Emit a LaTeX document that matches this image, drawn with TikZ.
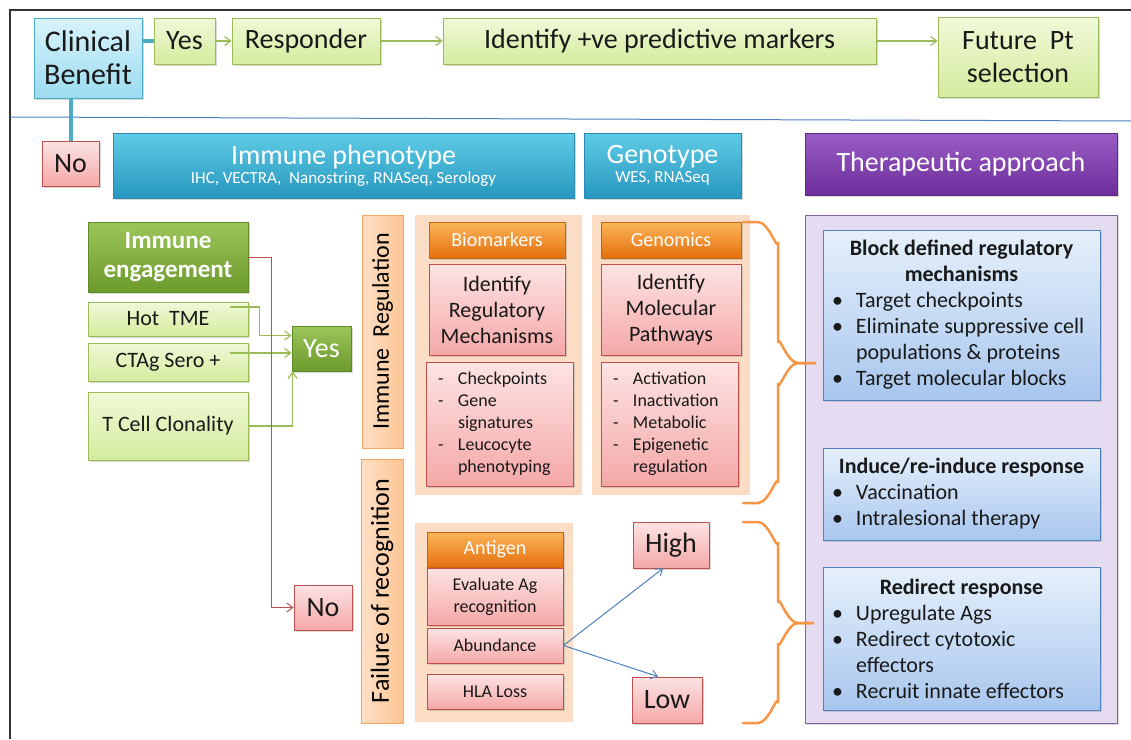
\documentclass[tikz,border=0pt]{standalone}
\usepackage{fontspec}
\setmainfont{Carlito}
\usetikzlibrary{positioning,shadows,arrows.meta}
\setlength{\parindent}{0pt}

\definecolor{lgrtop}{HTML}{F1F9D8}
\definecolor{lgrbot}{HTML}{D4EB9E}
\definecolor{lgrline}{HTML}{9BBB59}
\definecolor{dgrtop}{HTML}{9CC55A}
\definecolor{dgrbot}{HTML}{6C9A2C}
\definecolor{dgrline}{HTML}{5E8A29}
\definecolor{cytop}{HTML}{D8F3FB}
\definecolor{cybot}{HTML}{9CDCF0}
\definecolor{cyline}{HTML}{4BACC6}
\definecolor{pktop}{HTML}{FDE3E3}
\definecolor{pkbot}{HTML}{F5A8A8}
\definecolor{pkline}{HTML}{C0504D}
\definecolor{tltop}{HTML}{5FCBE6}
\definecolor{tlbot}{HTML}{2797BE}
\definecolor{tlline}{HTML}{2A8BB0}
\definecolor{pptop}{HTML}{9A5CC4}
\definecolor{ppbot}{HTML}{6D2E9C}
\definecolor{ppline}{HTML}{5C2A85}
\definecolor{ortop}{HTML}{FBB65A}
\definecolor{orbot}{HTML}{E56F0E}
\definecolor{orline}{HTML}{C9640F}
\definecolor{peach}{HTML}{FBDDC5}
\definecolor{peachlab}{HTML}{FCD2AE}
\definecolor{peachline}{HTML}{F4A55E}
\definecolor{lav}{HTML}{E6DCF1}
\definecolor{lavline}{HTML}{8064A2}
\definecolor{bltop}{HTML}{E6F0FB}
\definecolor{blbot}{HTML}{A8C6EE}
\definecolor{blline}{HTML}{4F81BD}
\definecolor{bracecol}{HTML}{F79646}
\definecolor{framecol}{HTML}{333333}

\newcommand{\fs}[2]{\fontsize{#1}{#2}\selectfont}
\newcommand{\blt}{\par\noindent\hangindent=33pt\hangafter=1\hspace*{9pt}\makebox[24pt][l]{\textbullet}}
\newcommand{\dsh}{\par\noindent\hangindent=32pt\hangafter=1\hspace*{12pt}\makebox[20pt][l]{-}}
\newcommand{\listbox}[2]{\parbox{#1}{\setlength{\parindent}{0pt}#2}}

\tikzset{
  corners/.style n args={4}{at={({(#1+#3)/2},{(#2+#4)/2})},
    minimum width={(#3-#1)*1pt}, minimum height={(#4-#2)*1pt}},
  box/.style={draw, line width=0.8pt, inner sep=0pt, align=center, text=black!90,
    drop shadow={shadow xshift=1.5pt, shadow yshift=-1.5pt, opacity=0.3}},
  lgreen/.style={box, draw=lgrline, top color=lgrtop, bottom color=lgrbot},
  dgreen/.style={box, draw=dgrline, top color=dgrtop, bottom color=dgrbot, text=white},
  cyan/.style={box, draw=cyline, top color=cytop, bottom color=cybot},
  pink/.style={box, draw=pkline, top color=pktop, bottom color=pkbot},
  teal/.style={box, draw=tlline, top color=tltop, bottom color=tlbot, text=white},
  purplehead/.style={box, draw=ppline, top color=pptop, bottom color=ppbot, text=white},
  orangehead/.style={box, draw=orline, top color=ortop, bottom color=orbot, text=white},
  bluebox/.style={box, draw=blline, top color=bltop, bottom color=blbot},
  panel/.style={fill=peach, inner sep=0pt},
  sidelab/.style={draw=peachline, line width=0.6pt, left color=peachlab!70!white,
    right color=peachlab!85!orange, inner sep=0pt},
  lavpanel/.style={draw=lavline, line width=1pt, fill=lav, inner sep=0pt,
    drop shadow={shadow xshift=1.5pt, shadow yshift=-1.5pt, opacity=0.3}},
  garrow/.style={draw=lgrline, line width=1.2pt, -{Straight Barb[length=6pt,width=9pt]}},
  rarrow/.style={draw=pkline, line width=1pt, -{Straight Barb[length=6pt,width=9pt]}},
  barrow/.style={draw=blline, line width=1pt, -{Straight Barb[length=6pt,width=9pt]}},
  cline/.style={draw=cyline, line width=4pt},
  brace/.style={draw=bracecol, line width=2.5pt, line cap=round},
}

\begin{document}
\begin{tikzpicture}[x=1pt,y=-1pt]
\useasboundingbox (0,0) rectangle (1131,739);
\fill[white] (0,0) rectangle (1131,739);
\draw[framecol, line width=1.8pt] (10,739) -- (10,10) -- (1131,10);
\draw[blline, line width=1pt] (10,117) -- (1131,121);

% top row
\node[cyan, corners={34}{18}{142}{98}, font=\fs{30}{33}] (clin) {Clinical\\Benefit};
\node[lgreen, corners={154}{18}{215}{64}, font=\fs{28}{33}] (yes1) {Yes};
\node[lgreen, corners={232}{18}{380}{64}, font=\fs{28}{33}] (resp) {Responder};
\node[lgreen, corners={443}{18}{876}{64}, font=\fs{28}{33}] (ident) {Identify +ve predictive markers};
\node[lgreen, corners={938}{17}{1098}{97}, font=\fs{28}{33}] (future) {Future\ \ Pt\\selection};
\node[pink, corners={42}{141}{99}{186}, font=\fs{28}{33}] (no1) {No};
\draw[cline] (clin.east |- yes1.west) -- (yes1.west);
\draw[cline] (no1.north |- clin.south) -- (no1.north);
\draw[garrow] (yes1) -- (resp);
\draw[garrow] (resp) -- (ident);
\draw[garrow] (ident.east) -- (ident.east -| future.west);

% headers
\node[teal, corners={113}{133}{574}{198}] (immph)
  {{\fs{28}{30}Immune phenotype}\\[2pt]{\fs{17}{19}IHC, VECTRA,\ \ Nanostring, RNASeq, Serology}};
\node[teal, corners={584}{133}{741}{198}] (geno)
  {{\fs{28}{30}Genotype}\\[2pt]{\fs{17}{19}WES, RNASeq}};
\node[purplehead, corners={805}{133}{1117}{195}, font=\fs{28}{30}] (thera) {Therapeutic approach};

% immune engagement
\node[dgreen, corners={88}{222}{248}{292}, font=\fs{25}{29}\bfseries] (eng) {Immune\\engagement};
\node[lgreen, corners={88}{302}{248}{336}, font=\fs{22}{24}] (hot) {Hot\ \ TME};
\node[lgreen, corners={88}{343}{248}{381}, font=\fs{22}{24}] (ctag) {CTAg Sero +};
\node[lgreen, corners={88}{392}{248}{460}, font=\fs{22}{24}] (tcell) {T Cell Clonality};
\node[dgreen, corners={292}{326}{351}{371}, font=\fs{28}{30}] (yes2) {Yes};
\node[pink, corners={294}{585}{352}{630}, font=\fs{28}{30}] (no2) {No};
\draw[garrow] ([xshift=-18pt,yshift=12pt]hot.east) -| ([xshift=-32pt,yshift=13pt]yes2.west) -- ([yshift=13pt]yes2.west);
\draw[garrow] ([xshift=-18pt,yshift=9pt]ctag.east) -- ([yshift=-4.5pt]yes2.west);
\draw[garrow] (tcell.east) -| ([xshift=1pt]yes2.south west);
\draw[rarrow] (eng.east) -| ([xshift=-22pt]no2.west) -- (no2.west);

% side labels
\node[sidelab, corners={362}{215}{403}{448}] (irlab) {};
\node[rotate=90, font=\fs{24}{28}] (irtext) at (irlab.center) {Immune\ \ Regulation};
\node[sidelab, corners={361}{459}{403}{723}] (forlab) {};
\node[rotate=90, font=\fs{26}{28}] (fortext) at (forlab.center) {Failure of recognition};

% biomarkers / genomics / antigen
\node[panel, corners={415}{215}{582}{495}] (biopanel) {};
\node[panel, corners={592}{215}{750}{495}] (genpanel) {};
\node[panel, corners={415}{523}{573}{722}] (agpanel) {};

\node[orangehead, corners={429}{222}{565}{258}, font=\fs{20}{24}] (biohead) {Biomarkers};
\node[pink, corners={429}{264}{565}{355}, font=\fs{22}{26}] (bioid) {Identify\\Regulatory\\Mechanisms};
\node[pink, corners={426}{362}{573}{486}, font=\fs{18}{22}] (biolist)
  {\listbox{147pt}{\dsh Checkpoints\dsh Gene\\signatures\dsh Leucocyte\\phenotyping}};

\node[orangehead, corners={601}{222}{741}{258}, font=\fs{20}{24}] (genhead) {Genomics};
\node[pink, corners={601}{264}{741}{355}, font=\fs{22}{26}] (genid) {Identify\\Molecular\\Pathways};
\node[pink, corners={601}{362}{738}{486}, font=\fs{18}{22}] (genlist)
  {\listbox{137pt}{\dsh Activation\dsh Inactivation\dsh Metabolic\dsh Epigenetic\\regulation}};

\node[orangehead, corners={427}{532}{563}{567}, font=\fs{20}{24}] (aghead) {Antigen};
\node[pink, corners={427}{568}{563}{625}, font=\fs{18}{22}] (ageval) {Evaluate Ag\\recognition};
\node[pink, corners={427}{628}{563}{663}, font=\fs{18}{22}] (agabund) {Abundance};
\node[pink, corners={427}{674}{563}{709}, font=\fs{18}{22}] (aghla) {HLA Loss};

\node[pink, corners={633}{522}{709}{568}, font=\fs{28}{30}] (high) {High};
\node[pink, corners={632}{677}{702}{723}, font=\fs{28}{30}] (low) {Low};
\draw[barrow] (agabund.east) -- ([xshift=-8pt]high.south);
\draw[barrow] (agabund.east) -- ([xshift=-9pt]low.north);

% therapeutic approach
\node[lavpanel, corners={805}{215}{1117}{723}] (rpanel) {};
\node[bluebox, corners={823}{230}{1100}{400}, font=\fs{22}{26}] (blockbox)
  {\listbox{277pt}{{\centering\bfseries Block defined regulatory\\mechanisms\par}
   \blt Target checkpoints\blt Eliminate suppressive cell\\populations \& proteins\blt Target molecular blocks}};
\node[bluebox, corners={823}{448}{1100}{540}, font=\fs{22}{26}] (inducebox)
  {\listbox{277pt}{{\centering\bfseries Induce/re-induce response\par}
   \blt Vaccination\blt Intralesional therapy}};
\node[bluebox, corners={823}{567}{1100}{710}, font=\fs{22}{26}] (redirbox)
  {\listbox{277pt}{{\centering\bfseries Redirect response\par}
   \blt Upregulate Ags\blt Redirect cytotoxic\\effectors\blt Recruit innate effectors}};

% braces
\draw[brace] (743,222) -- (758,222) to[out=0,in=-90] (778,242) -- (778,343)
  to[out=90,in=180] (798,363) -- (815,363);
\draw[brace] (815,363) -- (798,363) to[out=180,in=-90] (778,383) -- (778,483)
  to[out=90,in=0] (758,503) -- (743,503);
\draw[brace] (743,522) -- (758,522) to[out=0,in=-90] (778,542) -- (778,603)
  to[out=90,in=180] (798,623) -- (813,623);
\draw[brace] (813,623) -- (798,623) to[out=180,in=-90] (778,643) -- (778,703)
  to[out=90,in=0] (758,723) -- (743,723);
\end{tikzpicture}
\end{document}
